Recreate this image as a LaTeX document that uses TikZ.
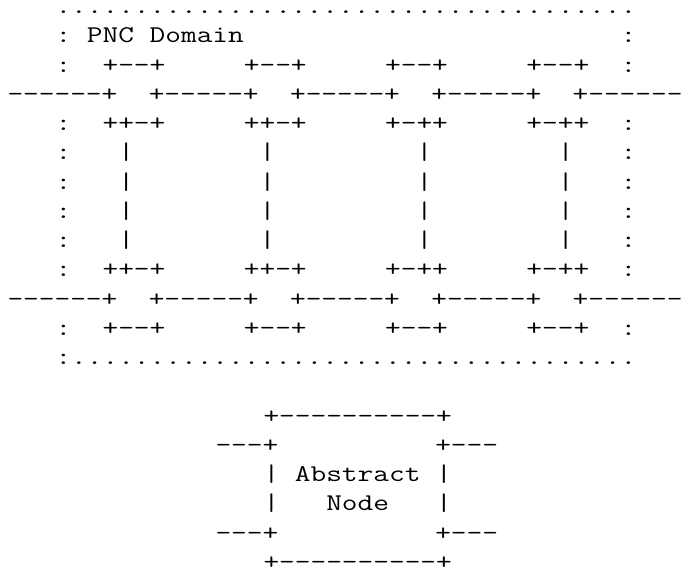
\documentclass[tikz,border=0pt]{standalone}
\usepackage{tikz}

\begin{document}
\begin{tikzpicture}[x=0.5pt,y=-0.5pt,
    art row/.style={anchor=base west,inner sep=0pt,xscale=1.27,
      font=\ttfamily\fontsize{12pt}{12pt}\selectfont\frenchspacing}]
  \useasboundingbox (0,0) rectangle (690,575);

  % PNC domain
  \node[art row] (domain top) at (55,13.5) {.....................................};
  \node[art row] (domain title) at (55,42.75) {:~PNC~Domain~~~~~~~~~~~~~~~~~~~~~~~~:};
  \node[art row] (ports top) at (55,72) {:~~+--+~~~~~+--+~~~~~+--+~~~~~+--+~~:};
  \node[art row] (link top) at (7,101.25) {------+~~+-----+~~+-----+~~+-----+~~+------};
  \node[art row] (bends top) at (55,130.5) {:~~++-+~~~~~++-+~~~~~+-++~~~~~+-++~~:};
  \node[art row] (wire 1) at (55,159.75) {:~~~|~~~~~~~~|~~~~~~~~~|~~~~~~~~|~~~:};
  \node[art row] (wire 2) at (55,189) {:~~~|~~~~~~~~|~~~~~~~~~|~~~~~~~~|~~~:};
  \node[art row] (wire 3) at (55,218.25) {:~~~|~~~~~~~~|~~~~~~~~~|~~~~~~~~|~~~:};
  \node[art row] (wire 4) at (55,247.5) {:~~~|~~~~~~~~|~~~~~~~~~|~~~~~~~~|~~~:};
  \node[art row] (bends bottom) at (55,276.75) {:~~++-+~~~~~++-+~~~~~+-++~~~~~+-++~~:};
  \node[art row] (link bottom) at (7,306) {------+~~+-----+~~+-----+~~+-----+~~+------};
  \node[art row] (ports bottom) at (55,335.25) {:~~+--+~~~~~+--+~~~~~+--+~~~~~+--+~~:};
  \node[art row] (domain bottom) at (55,364.5) {:....................................};

  % abstract node
  \node[art row] (abstract top) at (263,423) {+----------+};
  \node[art row] (abstract in) at (215,452.25) {---+~~~~~~~~~~+---};
  \node[art row] (abstract label) at (263,481.5) {|~Abstract~|};
  \node[art row] (abstract label 2) at (263,510.75) {|~~~Node~~~|};
  \node[art row] (abstract out) at (215,540) {---+~~~~~~~~~~+---};
  \node[art row] (abstract bottom) at (263,569.25) {+----------+};
\end{tikzpicture}
\end{document}
